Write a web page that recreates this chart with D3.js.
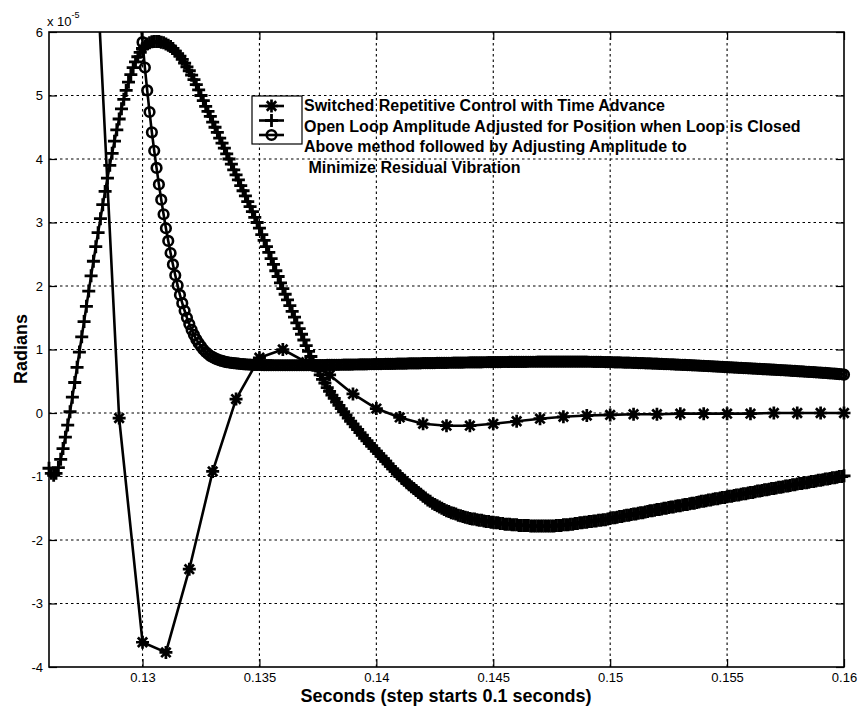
<!DOCTYPE html>
<html><head><meta charset="utf-8">
<script src="https://cdn.jsdelivr.net/npm/d3@7"></script>
<style>body{margin:0;background:#fff}svg{display:block}text{font-family:"Liberation Sans",Arial,sans-serif;fill:#000}</style>
</head><body><svg id="c" width="860" height="707"></svg>
<script>
// ---------------- data ----------------
const xTicks = [0.13, 0.135, 0.14, 0.145, 0.15, 0.155, 0.16];
const xTickLabels = ["0.13", "0.135", "0.14", "0.145", "0.15", "0.155", "0.16"];
const yTicks = [-4, -3, -2, -1, 0, 1, 2, 3, 4, 5, 6];
const seriesNames = [
  "Switched Repetitive Control with Time Advance",
  "Open Loop Amplitude Adjusted for Position when Loop is Closed",
  "Above method followed by Adjusting Amplitude to",
  " Minimize Residual Vibration"
];
// values in units of 1e-5 radians
// Series 1: asterisks, sampled every 1 ms from 0.128 s
const s1Start = 0.128, s1Step = 0.001;
const s1Values = [7.3, -0.08, -3.61, -3.77, -2.46, -0.92, 0.22, 0.87, 1.00, 0.80,
  0.60, 0.30, 0.07, -0.07, -0.17, -0.20, -0.20, -0.17, -0.13, -0.09,
  -0.06, -0.04, -0.03, -0.02, -0.02, -0.01, -0.01, -0.01, -0.01, 0.00,
  0.00, 0.00, 0.00];
// Series 2: pluses, sampled every 0.1 ms from 0.126 s
const s2Start = 0.126, s2Step = 0.0001;
const s2Values = [
  -0.87,-0.95,-0.98,-0.95,-0.86,-0.73,-0.56,-0.38,-0.19,0.02,
  0.25,0.48,0.72,0.96,1.20,1.44,1.68,1.92,2.16,2.39,
  2.62,2.84,3.06,3.28,3.49,3.70,3.90,4.09,4.28,4.46,
  4.63,4.79,4.94,5.08,5.21,5.33,5.44,5.53,5.61,5.68,
  5.74,5.78,5.81,5.83,5.845,5.85,5.85,5.85,5.84,5.83,
  5.81,5.79,5.77,5.74,5.70,5.66,5.62,5.57,5.51,5.45,
  5.39,5.32,5.25,5.17,5.09,5.00,4.92,4.83,4.75,4.67,
  4.58,4.50,4.42,4.33,4.25,4.17,4.08,4.00,3.92,3.83,
  3.75,3.67,3.58,3.50,3.42,3.33,3.25,3.17,3.08,3.00,
  2.91,2.81,2.72,2.62,2.53,2.43,2.34,2.24,2.15,2.05,
  1.96,1.87,1.78,1.69,1.60,1.51,1.42,1.33,1.24,1.15,
  1.06,0.97,0.89,0.81,0.74,0.67,0.60,0.53,0.47,0.40,
  0.34,0.28,0.23,0.17,0.12,0.07,0.02,-0.03,-0.08,-0.13,
  -0.17,-0.22,-0.26,-0.31,-0.35,-0.40,-0.44,-0.48,-0.52,-0.56,
  -0.60,-0.64,-0.68,-0.72,-0.76,-0.80,-0.84,-0.88,-0.92,-0.96,
  -0.99,-1.03,-1.06,-1.10,-1.13,-1.16,-1.19,-1.22,-1.25,-1.28,
  -1.31,-1.34,-1.37,-1.39,-1.42,-1.44,-1.46,-1.48,-1.50,-1.52,
  -1.54,-1.55,-1.57,-1.58,-1.59,-1.61,-1.62,-1.63,-1.64,-1.65,
  -1.66,-1.67,-1.67,-1.68,-1.69,-1.69,-1.70,-1.71,-1.71,-1.72,
  -1.72,-1.73,-1.73,-1.74,-1.74,-1.75,-1.75,-1.75,-1.76,-1.76,
  -1.76,-1.77,-1.77,-1.77,-1.77,-1.77,-1.78,-1.78,-1.78,-1.78,
  -1.78,-1.78,-1.78,-1.78,-1.78,-1.78,-1.78,-1.77,-1.77,-1.77,
  -1.76,-1.76,-1.76,-1.75,-1.75,-1.74,-1.74,-1.73,-1.73,-1.72,
  -1.72,-1.71,-1.71,-1.70,-1.70,-1.69,-1.69,-1.68,-1.68,-1.67,
  -1.66,-1.65,-1.65,-1.64,-1.63,-1.63,-1.62,-1.61,-1.61,-1.60,
  -1.59,-1.59,-1.58,-1.57,-1.57,-1.56,-1.55,-1.54,-1.54,-1.53,
  -1.52,-1.52,-1.51,-1.50,-1.50,-1.49,-1.48,-1.48,-1.47,-1.46,
  -1.46,-1.45,-1.44,-1.44,-1.43,-1.42,-1.42,-1.41,-1.40,-1.39,
  -1.39,-1.38,-1.37,-1.37,-1.36,-1.35,-1.35,-1.34,-1.33,-1.33,
  -1.32,-1.31,-1.31,-1.30,-1.29,-1.29,-1.28,-1.27,-1.27,-1.26,
  -1.25,-1.25,-1.24,-1.23,-1.23,-1.22,-1.21,-1.21,-1.20,-1.19,
  -1.19,-1.18,-1.17,-1.17,-1.16,-1.15,-1.15,-1.14,-1.13,-1.13,
  -1.12,-1.11,-1.11,-1.10,-1.10,-1.09,-1.08,-1.08,-1.07,-1.06,
  -1.06,-1.05,-1.04,-1.04,-1.03,-1.02,-1.02,-1.01,-1.00,-1.00,
  -0.99];
// Series 3: circles, sampled every 0.1 ms from 0.1299 s
const s3Start = 0.1299, s3Step = 0.0001;
const s3Values = [
  6.25,
  5.84,5.44,5.08,4.74,4.42,4.13,3.86,3.60,3.36,3.13,
  2.91,2.71,2.52,2.34,2.17,2.01,1.86,1.73,1.61,1.50,
  1.40,1.31,1.23,1.16,1.10,1.05,1.00,0.96,0.93,0.90,
  0.88,0.86,0.845,0.83,0.82,0.81,0.80,0.795,0.79,0.785,
  0.78,0.776,0.772,0.769,0.766,0.764,0.762,0.760,0.758,0.757,
  0.756,0.755,0.754,0.754,0.753,0.753,0.752,0.752,0.752,0.752,
  0.752,0.752,0.752,0.752,0.752,0.752,0.752,0.752,0.753,0.753,
  0.753,0.753,0.754,0.754,0.754,0.755,0.755,0.756,0.756,0.757,
  0.757,0.758,0.758,0.759,0.759,0.760,0.761,0.761,0.762,0.762,
  0.763,0.764,0.764,0.765,0.766,0.766,0.767,0.768,0.768,0.769,
  0.770,0.771,0.771,0.772,0.773,0.773,0.774,0.775,0.775,0.776,
  0.777,0.778,0.778,0.779,0.780,0.780,0.781,0.782,0.782,0.783,
  0.784,0.784,0.785,0.786,0.786,0.787,0.788,0.788,0.789,0.789,
  0.790,0.791,0.791,0.792,0.792,0.793,0.794,0.794,0.795,0.795,
  0.796,0.796,0.797,0.797,0.798,0.798,0.799,0.799,0.800,0.800,
  0.801,0.801,0.802,0.802,0.803,0.803,0.803,0.804,0.804,0.805,
  0.805,0.805,0.806,0.806,0.806,0.807,0.807,0.807,0.807,0.808,
  0.808,0.808,0.808,0.809,0.809,0.809,0.809,0.809,0.810,0.810,
  0.810,0.810,0.810,0.810,0.810,0.809,0.809,0.809,0.809,0.808,
  0.808,0.807,0.807,0.806,0.805,0.805,0.804,0.803,0.802,0.801,
  0.800,0.799,0.798,0.797,0.796,0.795,0.794,0.793,0.792,0.791,
  0.790,0.788,0.787,0.786,0.784,0.783,0.782,0.780,0.779,0.777,
  0.776,0.774,0.773,0.771,0.770,0.768,0.767,0.765,0.763,0.762,
  0.760,0.758,0.757,0.755,0.753,0.751,0.750,0.748,0.746,0.744,
  0.742,0.740,0.738,0.736,0.734,0.732,0.730,0.728,0.726,0.724,
  0.722,0.720,0.718,0.716,0.714,0.712,0.710,0.708,0.706,0.704,
  0.702,0.700,0.698,0.696,0.694,0.692,0.690,0.688,0.686,0.684,
  0.682,0.680,0.677,0.675,0.673,0.671,0.669,0.667,0.664,0.662,
  0.660,0.657,0.655,0.653,0.650,0.648,0.646,0.643,0.641,0.638,
  0.636,0.633,0.631,0.628,0.625,0.622,0.619,0.616,0.613,0.610,
  0.605];

// ---------------- chart ----------------
const M = {left: 49, right: 844, top: 32, bottom: 667};
const svg = d3.select("#c");
const X = d3.scaleLinear().domain([0.126, 0.16]).range([M.left, M.right]);
const Y = d3.scaleLinear().domain([-4, 6]).range([M.bottom, M.top]);

const toPts = (start, step, vals) => vals.map((v, i) => ({t: start + i * step, v}));
const series = [
  {pts: toPts(s1Start, s1Step, s1Values), marker: "asterisk"},
  {pts: toPts(s2Start, s2Step, s2Values), marker: "plus"},
  {pts: toPts(s3Start, s3Step, s3Values), marker: "circle"}
];

// grid (dotted)
const grid = svg.append("g").attr("stroke", "#000").attr("stroke-width", 1.1).attr("stroke-dasharray", "2.5,3");
grid.selectAll("line.gx").data(xTicks.filter(t => t < 0.16)).join("line")
  .attr("x1", d => X(d)).attr("x2", d => X(d)).attr("y1", M.top).attr("y2", M.bottom);
grid.selectAll("line.gy").data(yTicks.filter(v => v > -4 && v < 6)).join("line")
  .attr("y1", d => Y(d)).attr("y2", d => Y(d)).attr("x1", M.left).attr("x2", M.right);

// axes (ticks inward)
const styleAxis = g => { g.select(".domain").remove(); g.selectAll(".tick line").attr("stroke", "#000").attr("stroke-width", 1.2); g.selectAll("text").attr("font-size", 13).attr("font-family", "Liberation Sans, Arial, sans-serif"); };
svg.append("g").attr("transform", `translate(0,${M.bottom})`)
  .call(d3.axisBottom(X).tickValues(xTicks).tickFormat((d, i) => xTickLabels[i]).tickSizeInner(-8).tickSizeOuter(0).tickPadding(6))
  .call(styleAxis);
svg.append("g").attr("transform", `translate(0,${M.top})`)
  .call(d3.axisTop(X).tickValues(xTicks).tickFormat("").tickSizeInner(-8).tickSizeOuter(0))
  .call(styleAxis);
svg.append("g").attr("transform", `translate(${M.left},0)`)
  .call(d3.axisLeft(Y).tickValues(yTicks).tickFormat(d => String(d)).tickSizeInner(-8).tickSizeOuter(0).tickPadding(6))
  .call(styleAxis);
svg.append("g").attr("transform", `translate(${M.right},0)`)
  .call(d3.axisRight(Y).tickValues(yTicks).tickFormat("").tickSizeInner(-8).tickSizeOuter(0))
  .call(styleAxis);
svg.selectAll(".tick text").attr("fill", "#000");

// frame
svg.append("rect").attr("x", M.left).attr("y", M.top).attr("width", M.right - M.left).attr("height", M.bottom - M.top)
  .attr("fill", "none").attr("stroke", "#000").attr("stroke-width", 1.6);

// clip
svg.append("clipPath").attr("id", "clip").append("rect")
  .attr("x", M.left).attr("y", M.top).attr("width", M.right - M.left).attr("height", M.bottom - M.top);

const markerPath = {
  asterisk: "M-6.5,0H6.5M0,-6.5V6.5M-4.7,-4.7L4.7,4.7M-4.7,4.7L4.7,-4.7",
  plus: "M-6.5,0H6.5M0,-6.5V6.5"
};
function drawMarker(g, kind, x, y) {
  if (kind === "circle") {
    g.append("circle").attr("cx", x).attr("cy", y).attr("r", 4.8)
      .attr("fill", "none").attr("stroke", "#000").attr("stroke-width", 2.6);
  } else {
    g.append("path").attr("transform", `translate(${x},${y})`).attr("d", markerPath[kind])
      .attr("fill", "none").attr("stroke", "#000").attr("stroke-width", kind === "plus" ? 2.8 : 2.7);
  }
}

const line = d3.line().x(d => X(d.t)).y(d => Y(d.v));
series.forEach(s => {
  const g = svg.append("g");
  g.append("path").datum(s.pts).attr("clip-path", "url(#clip)").attr("d", line)
    .attr("fill", "none").attr("stroke", "#000").attr("stroke-width", 2.6).attr("stroke-linejoin", "round");
  const mg = g.append("g");
  s.pts.filter(p => p.v <= 6 && p.v >= -4).forEach(p => drawMarker(mg, s.marker, X(p.t), Y(p.v)));
});

// legend
const lg = svg.append("g");
lg.append("rect").attr("x", 252).attr("y", 96).attr("width", 50).attr("height", 48)
  .attr("fill", "#fff").attr("stroke", "#000").attr("stroke-width", 1.2);
[["asterisk", 106], ["plus", 120.5], ["circle", 135]].forEach(([k, yy]) => {
  lg.append("line").attr("x1", 259).attr("x2", 284).attr("y1", yy).attr("y2", yy).attr("stroke", "#000").attr("stroke-width", 2.6);
  drawMarker(lg, k, 271.5, yy);
});
seriesNames.forEach((s, i) => {
  lg.append("text").attr("x", 304).attr("y", 111 + i * 20.7).attr("font-size", 16).attr("font-weight", "bold")
    .attr("style", "white-space:pre").text(s);
});

// axis labels
svg.append("text").attr("x", 446).attr("y", 702).attr("text-anchor", "middle")
  .attr("font-size", 18).attr("font-weight", "bold").text("Seconds (step starts 0.1 seconds)");
svg.append("text").attr("transform", "translate(27,349) rotate(-90)").attr("text-anchor", "middle")
  .attr("font-size", 18).attr("font-weight", "bold").text("Radians");
// exponent label
const ex = svg.append("text").attr("x", 47).attr("y", 26).attr("font-size", 13);
ex.append("tspan").text("x 10");
ex.append("tspan").attr("font-size", 9).attr("dy", -8).text("-5");
</script>
</body></html>
